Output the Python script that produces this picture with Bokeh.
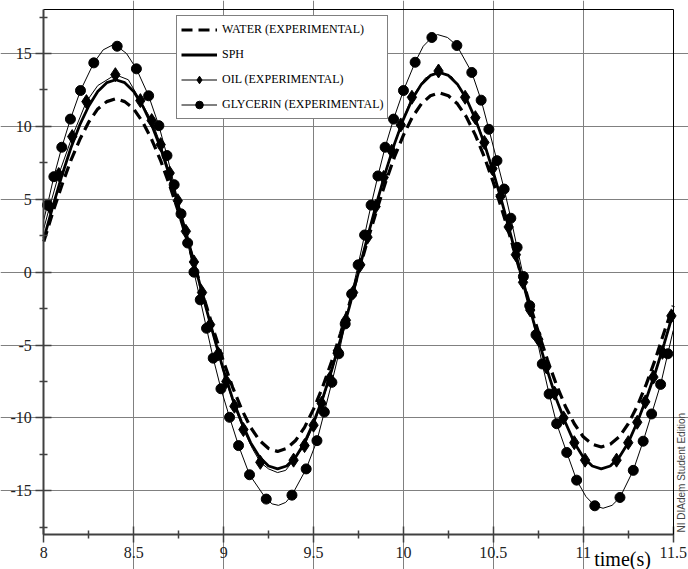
import math
from bokeh.plotting import figure
from bokeh.models import (Range1d, FixedTicker, Legend, LegendItem, Label,
                          CustomJSTickFormatter, LinearAxis)
from bokeh.embed import file_html
from bokeh.resources import INLINE

# ---------------- data ----------------
t_grid = [8.00, 8.05, 8.10, 8.15, 8.20, 8.25, 8.30, 8.35, 8.40, 8.45,
          8.50, 8.55, 8.60, 8.65, 8.70, 8.75, 8.80, 8.85, 8.90, 8.95,
          9.00, 9.05, 9.10, 9.15, 9.20, 9.25, 9.30, 9.35, 9.40, 9.45,
          9.50, 9.55, 9.60, 9.65, 9.70, 9.75, 9.80, 9.85, 9.90, 9.95,
          10.00, 10.05, 10.10, 10.15, 10.20, 10.25, 10.30, 10.35, 10.40, 10.45,
          10.50, 10.55, 10.60, 10.65, 10.70, 10.75, 10.80, 10.85, 10.90, 10.95,
          11.00, 11.05, 11.10, 11.15, 11.20, 11.25, 11.30, 11.35, 11.40, 11.45,
          11.50]

water = [2.1, 4.1, 5.95, 7.65, 9.1, 10.3, 11.2, 11.7, 11.9, 11.7,
         11.2, 10.3, 9.1, 7.65, 5.95, 4.1, 2.1, 0.0, -2.15, -4.2,
         -6.15, -7.9, -9.4, -10.65, -11.55, -12.1, -12.3, -12.1, -11.55, -10.65,
         -9.4, -7.9, -6.15, -4.2, -2.15, 0.0, 2.15, 4.2, 6.15, 7.9,
         9.4, 10.65, 11.55, 12.1, 12.3, 12.1, 11.55, 10.65, 9.4, 7.9,
         6.15, 4.2, 2.15, 0.0, -2.1, -4.1, -6.0, -7.7, -9.2, -10.4,
         -11.3, -11.8, -12.0, -11.8, -11.3, -10.4, -9.2, -7.7, -6.0, -4.1,
         -2.3]

sph = [2.3, 4.5, 6.6, 8.5, 10.1, 11.4, 12.4, 13.0, 13.2, 13.0,
       12.4, 11.4, 10.1, 8.5, 6.6, 4.5, 2.3, 0.0, -2.35, -4.6,
       -6.75, -8.7, -10.3, -11.7, -12.7, -13.3, -13.5, -13.3, -12.7, -11.7,
       -10.3, -8.7, -6.75, -4.6, -2.35, 0.0, 2.4, 4.7, 6.85, 8.8,
       10.5, 11.9, 12.9, 13.5, 13.7, 13.5, 12.9, 11.9, 10.5, 8.8,
       6.85, 4.7, 2.4, 0.0, -2.35, -4.6, -6.75, -8.7, -10.3, -11.7,
       -12.7, -13.3, -13.5, -13.3, -12.7, -11.7, -10.3, -8.7, -6.9, -4.9,
       -2.8]

oil_t = [8.033, 8.083, 8.158, 8.237, 8.398, 8.537, 8.600, 8.650, 8.700, 8.745,
         8.790, 8.835, 8.880, 8.925, 8.970, 9.015, 9.060, 9.110, 9.204, 9.389,
         9.450, 9.500, 9.545, 9.590, 9.635, 9.680, 9.720, 9.760, 9.800, 9.845,
         9.890, 9.935, 9.985, 10.047, 10.195, 10.343, 10.400, 10.450, 10.495, 10.540,
         10.585, 10.625, 10.665, 10.705, 10.750, 10.795, 10.840, 10.890, 10.950, 11.010,
         11.185, 11.250, 11.300, 11.345, 11.390, 11.440, 11.490]
oil_v = [4.5, 6.7, 9.3, 11.7, 13.55, 11.77, 10.4, 8.75, 6.8, 4.9,
         2.8, 0.7, -1.4, -3.6, -5.6, -7.5, -9.2, -10.8, -13.05, -12.9,
         -11.9, -10.5, -9.0, -7.3, -5.4, -3.3, -1.4, 0.5, 2.4, 4.5,
         6.5, 8.3, 10.1, 12.0, 13.8, 12.0, 10.6, 8.9, 7.1, 5.2,
         3.1, 1.2, -0.7, -2.6, -4.6, -6.5, -8.3, -10.0, -11.7, -12.9,
         -12.9, -11.7, -10.3, -8.9, -7.2, -5.5, -3.0]

oil_line_t = [8.0, 8.033, 8.083, 8.158, 8.237, 8.30, 8.398, 8.47, 8.537, 8.600,
              8.650, 8.700, 8.745, 8.790, 8.835, 8.880, 8.925, 8.970, 9.015, 9.060,
              9.110, 9.16, 9.204, 9.25, 9.30, 9.345, 9.389, 9.450, 9.500, 9.545,
              9.590, 9.635, 9.680, 9.720, 9.760, 9.800, 9.845, 9.890, 9.935, 9.985,
              10.047, 10.12, 10.195, 10.27, 10.343, 10.400, 10.450, 10.495, 10.540, 10.585,
              10.625, 10.665, 10.705, 10.750, 10.795, 10.840, 10.890, 10.950, 11.010, 11.05,
              11.10, 11.145, 11.185, 11.250, 11.300, 11.345, 11.390, 11.440, 11.490, 11.5]
oil_line_v = [3.0, 4.5, 6.7, 9.3, 11.7, 12.8, 13.55, 13.2, 11.77, 10.4,
              8.75, 6.8, 4.9, 2.8, 0.7, -1.4, -3.6, -5.6, -7.5, -9.2,
              -10.8, -12.1, -13.05, -13.5, -13.75, -13.6, -12.9, -11.9, -10.5, -9.0,
              -7.3, -5.4, -3.3, -1.4, 0.5, 2.4, 4.5, 6.5, 8.3, 10.1,
              12.0, 13.3, 13.8, 13.4, 12.0, 10.6, 8.9, 7.1, 5.2, 3.1,
              1.2, -0.7, -2.6, -4.6, -6.5, -8.3, -10.0, -11.7, -12.9, -13.3,
              -13.5, -13.35, -12.9, -11.7, -10.3, -8.9, -7.2, -5.5, -3.0, -2.6]

gly_t = [8.020, 8.056, 8.100, 8.148, 8.204, 8.278, 8.408, 8.515, 8.583, 8.640,
         8.685, 8.725, 8.763, 8.800, 8.835, 8.870, 8.905, 8.942, 8.985, 9.033,
         9.083, 9.144, 9.237, 9.380, 9.459, 9.519, 9.560, 9.602, 9.640, 9.676,
         9.712, 9.748, 9.784, 9.820, 9.858, 9.898, 9.945, 10.000, 10.065, 10.158,
         10.297, 10.380, 10.432, 10.475, 10.520, 10.560, 10.597, 10.632, 10.667, 10.702,
         10.737, 10.772, 10.810, 10.852, 10.908, 10.963, 11.064, 11.204, 11.278, 11.333,
         11.380, 11.430, 11.470]
gly_v = [4.6, 6.55, 8.57, 10.5, 12.46, 14.36, 15.5, 13.95, 12.1, 10.05,
         8.0, 6.0, 4.0, 2.0, 0.0, -1.9, -3.85, -5.9, -8.0, -9.96,
         -11.9, -13.9, -15.57, -15.3, -13.5, -11.56, -9.6, -7.56, -5.6, -3.55,
         -1.5, 0.5, 2.55, 4.6, 6.6, 8.57, 10.5, 12.46, 14.4, 16.1,
         15.55, 13.7, 11.8, 9.8, 7.65, 5.7, 3.7, 1.7, -0.3, -2.3,
         -4.3, -6.3, -8.36, -10.4, -12.37, -14.27, -16.03, -15.46, -13.6, -11.6,
         -9.73, -7.7, -5.6]

gly_line_t = [8.0, 8.020, 8.056, 8.100, 8.148, 8.204, 8.278, 8.33, 8.385, 8.408,
              8.46, 8.515, 8.583, 8.640, 8.685, 8.725, 8.763, 8.800, 8.835, 8.870,
              8.905, 8.942, 8.985, 9.033, 9.083, 9.144, 9.237, 9.27, 9.305, 9.345,
              9.380, 9.459, 9.519, 9.560, 9.602, 9.640, 9.676, 9.712, 9.748, 9.784,
              9.820, 9.858, 9.898, 9.945, 10.000, 10.065, 10.11, 10.158, 10.19, 10.245,
              10.297, 10.380, 10.432, 10.475, 10.520, 10.560, 10.597, 10.632, 10.667, 10.702,
              10.737, 10.772, 10.810, 10.852, 10.908, 10.963, 11.015, 11.064, 11.11, 11.16,
              11.204, 11.278, 11.333, 11.380, 11.430, 11.470, 11.5]
gly_line_v = [3.6, 4.6, 6.55, 8.57, 10.5, 12.46, 14.36, 15.25, 15.6, 15.5,
              15.0, 13.95, 12.1, 10.05, 8.0, 6.0, 4.0, 2.0, 0.0, -1.9,
              -3.85, -5.9, -8.0, -9.96, -11.9, -13.9, -15.57, -15.9, -16.0, -15.8,
              -15.3, -13.5, -11.56, -9.6, -7.56, -5.6, -3.55, -1.5, 0.5, 2.55,
              4.6, 6.6, 8.57, 10.5, 12.46, 14.4, 15.5, 16.1, 16.3, 16.1,
              15.55, 13.7, 11.8, 9.8, 7.65, 5.7, 3.7, 1.7, -0.3, -2.3,
              -4.3, -6.3, -8.36, -10.4, -12.37, -14.27, -15.4, -16.03, -16.2, -16.0,
              -15.46, -13.6, -11.6, -9.73, -7.7, -5.6, -4.0]

x_ticks = [8, 8.5, 9, 9.5, 10, 10.5, 11, 11.5]
x_minor = [8.25, 8.75, 9.25, 9.75, 10.25, 10.75, 11.25]
x_grid = [8.5, 9, 9.5, 10, 10.5, 11]
y_ticks = [-15, -10, -5, 0, 5, 10, 15]
y_minor = [-17.5, -12.5, -7.5, -2.5, 2.5, 7.5, 12.5, 17.5]
x_lim = (8, 11.5)
y_lim = (-18, 18)

labels = ["WATER (EXPERIMENTAL)", "SPH", "OIL (EXPERIMENTAL)", "GLYCERIN (EXPERIMENTAL)"]
x_title = "time(s)"
watermark = "NI DIAdem Student Edition"

# ---------------- figure ----------------
SERIF = "Liberation Serif"
W, H = 688, 569
BOX_L, BOX_R, BOX_T, BOX_B = 43.3, 672.7, 9.3, 534.0   # plotting box, px
sx = (BOX_R - BOX_L) / (x_lim[1] - x_lim[0])
sy = (BOX_B - BOX_T) / (y_lim[1] - y_lim[0])
# the frame covers the whole canvas so that nothing outside the box gets clipped;
# the axes are pinned to the box edges with fixed_location
p = figure(width=W, height=H, output_backend="svg", toolbar_location=None,
           x_range=Range1d(x_lim[0] - BOX_L / sx, x_lim[1] + (W - BOX_R) / sx),
           y_range=Range1d(y_lim[0] - (H - BOX_B) / sy, y_lim[1] + BOX_T / sy),
           min_border_left=0, min_border_right=0, min_border_top=0,
           min_border_bottom=0)
p.background_fill_color = "white"
p.border_fill_color = "white"
p.outline_line_color = None

r_water = p.line(t_grid, water, line_color="black", line_width=3.2, line_dash="11 6")
r_sph = p.line(t_grid, sph, line_color="black", line_width=2.8)
r_oil_line = p.line(oil_line_t, oil_line_v, line_color="black", line_width=1)
r_oil_pts = p.scatter(oil_t, oil_v, marker="diamond", size=14,
                      fill_color="black", line_color="black")
r_gly_line = p.line(gly_line_t, gly_line_v, line_color="black", line_width=1)
r_gly_pts = p.scatter(gly_t, gly_v, marker="circle", size=10,
                      fill_color="black", line_color="black")

# axes
xax = p.xaxis[0]
yax = p.yaxis[0]
xax.fixed_location = y_lim[0]
yax.fixed_location = x_lim[0]
xax.bounds = x_lim
yax.bounds = y_lim
xax.ticker = FixedTicker(ticks=x_ticks, minor_ticks=x_minor)
yax.ticker = FixedTicker(ticks=y_ticks, minor_ticks=y_minor)
xax.formatter = CustomJSTickFormatter(code="return tick.toString();")
yax.formatter = CustomJSTickFormatter(code="return tick.toString();")
for ax in (xax, yax):
    ax.axis_line_color = "#404040"
    ax.axis_line_width = 2
    ax.major_tick_line_color = "#404040"
    ax.major_tick_line_width = 1.5
    ax.minor_tick_line_color = "#404040"
    ax.minor_tick_line_width = 1.5
    ax.major_tick_in = 8
    ax.major_tick_out = 8
    ax.minor_tick_in = 4
    ax.minor_tick_out = 4
    ax.major_label_text_font = SERIF
    ax.major_label_text_font_size = "16px"
    ax.major_label_text_color = "#222222"
yax.major_label_standoff = 4
xax.major_label_standoff = 4

# top and right border lines of the plotting box
top_ax = LinearAxis(fixed_location=y_lim[1], bounds=x_lim,
                    ticker=FixedTicker(ticks=[]), major_label_text_font_size="0px",
                    axis_line_color="black", axis_line_width=1,
                    major_tick_line_color=None, minor_tick_line_color=None)
right_ax = LinearAxis(fixed_location=x_lim[1], bounds=y_lim,
                      ticker=FixedTicker(ticks=[]), major_label_text_font_size="0px",
                      axis_line_color="black", axis_line_width=1,
                      major_tick_line_color=None, minor_tick_line_color=None)
p.add_layout(top_ax, "above")
p.add_layout(right_ax, "right")

p.xgrid.ticker = FixedTicker(ticks=x_grid)
p.ygrid.ticker = FixedTicker(ticks=y_ticks)
p.xgrid.bounds = y_lim
p.ygrid.bounds = x_lim
for g in (p.xgrid[0], p.ygrid[0]):
    g.grid_line_color = "#808080"
    g.grid_line_width = 1

legend = Legend(items=[
    LegendItem(label=labels[0], renderers=[r_water]),
    LegendItem(label=labels[1], renderers=[r_sph]),
    LegendItem(label=labels[2], renderers=[r_oil_line, r_oil_pts]),
    LegendItem(label=labels[3], renderers=[r_gly_line, r_gly_pts]),
], location=(176, 450))
legend.label_text_font = SERIF
legend.label_text_font_size = "12px"
legend.label_text_color = "black"
legend.glyph_width = 36
legend.glyph_height = 19
legend.label_height = 19
legend.spacing = 6
legend.padding = 4
legend.margin = 0
legend.label_standoff = 5
legend.border_line_color = "black"
legend.border_line_width = 1.5
legend.background_fill_color = "white"
legend.background_fill_alpha = 1.0
p.add_layout(legend)

p.add_layout(Label(x=11.061, y=y_lim[0], x_units="data", y_units="data", text=x_title,
                   text_font=SERIF, text_font_size="20px", text_color="black",
                   text_align="left", text_baseline="alphabetic", y_offset=-24))
p.add_layout(Label(x=x_lim[1], y=y_lim[0], x_units="data", y_units="data", text=watermark,
                   text_font="Liberation Sans", text_font_size="10px",
                   text_color="#444444", angle=math.pi / 2, x_offset=8, y_offset=2,
                   text_align="left", text_baseline="middle"))

open("out.html", "w").write(file_html(p, INLINE))
